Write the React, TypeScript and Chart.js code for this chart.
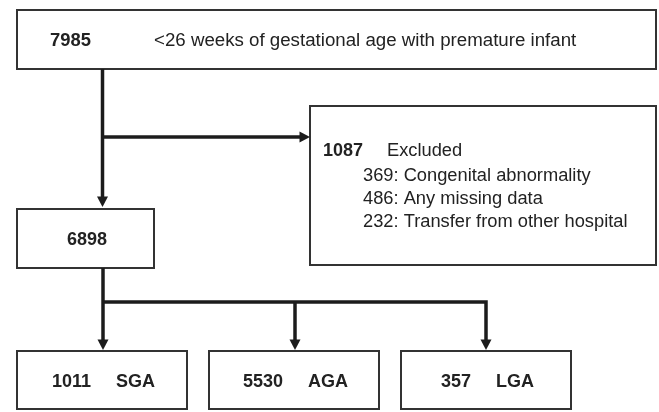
import React, { useEffect, useRef } from "react";
import { Chart, registerables } from "chart.js";

Chart.register(...registerables);

// ---- data ----
const nodeCounts = [7985, 1087, 6898, 1011, 5530, 357];
const nodeLabels = [
  "<26 weeks of gestational age with premature infant",
  "Excluded",
  "",
  "SGA",
  "AGA",
  "LGA",
];
const exclusionCounts = [369, 486, 232];
const exclusionReasons = [
  "Congenital abnormality",
  "Any missing data",
  "Transfer from other hospital",
];

// ---- layout (in scale units: x 0..659, y 0..412) ----
type Box = { x0: number; y0: number; x1: number; y1: number };
const boxes: Box[] = [
  { x0: 17, y0: 10, x1: 656, y1: 69 },
  { x0: 310, y0: 106, x1: 656, y1: 265 },
  { x0: 17, y0: 209, x1: 154, y1: 268 },
  { x0: 17, y0: 351, x1: 187, y1: 409 },
  { x0: 209, y0: 351, x1: 379, y1: 409 },
  { x0: 401, y0: 351, x1: 571, y1: 409 },
];
const connectors: { pts: number[][]; arrow: boolean }[] = [
  { pts: [[102.5, 69], [102.5, 207]], arrow: true },
  { pts: [[102.5, 137], [310, 137]], arrow: true },
  { pts: [[103, 268], [103, 350]], arrow: true },
  { pts: [[103, 302], [486, 302], [486, 350]], arrow: true },
  { pts: [[295, 302], [295, 350]], arrow: true },
];

const FONT = '"Liberation Sans", Arial, Helvetica, sans-serif';
const FS = 18;

const flowPlugin = {
  id: "flow",
  beforeDraw(chart: any) {
    const c = chart.ctx;
    c.save();
    c.fillStyle = "#ffffff";
    c.fillRect(0, 0, chart.width, chart.height);
    c.restore();
  },
  afterDraw(chart: any) {
    const c: CanvasRenderingContext2D = chart.ctx;
    const xs = chart.scales.x;
    const ys = chart.scales.y;
    const px = (v: number) => xs.getPixelForValue(v);
    const py = (v: number) => ys.getPixelForValue(v);
    c.save();

    // boxes
    c.strokeStyle = "#333333";
    c.lineWidth = 2;
    boxes.forEach((b) => {
      c.strokeRect(px(b.x0), py(b.y0), px(b.x1) - px(b.x0), py(b.y1) - py(b.y0));
    });

    // connectors
    c.strokeStyle = "#1c1c1c";
    c.fillStyle = "#1c1c1c";
    c.lineWidth = 3.5;
    c.lineCap = "butt";
    c.lineJoin = "miter";
    connectors.forEach((cn) => {
      const pts = cn.pts.map((p) => [px(p[0]), py(p[1])]);
      const n = pts.length;
      const [ex, ey] = pts[n - 1];
      const [sx, sy] = pts[n - 2];
      const len = Math.hypot(ex - sx, ey - sy);
      const ux = (ex - sx) / len;
      const uy = (ey - sy) / len;
      const head = 10.5;
      c.beginPath();
      c.moveTo(pts[0][0], pts[0][1]);
      for (let i = 1; i < n - 1; i++) c.lineTo(pts[i][0], pts[i][1]);
      c.lineTo(ex - ux * (cn.arrow ? head - 1 : 0), ey - uy * (cn.arrow ? head - 1 : 0));
      c.stroke();
      if (cn.arrow) {
        const bx = ex - ux * head;
        const by = ey - uy * head;
        const w = 5.5;
        c.beginPath();
        c.moveTo(ex, ey);
        c.lineTo(bx - uy * w, by + ux * w);
        c.lineTo(bx + uy * w, by - ux * w);
        c.closePath();
        c.fill();
      }
    });

    // texts
    c.fillStyle = "#222222";
    c.textBaseline = "alphabetic";
    const bold = `bold ${FS}px ${FONT}`;

    // top box
    c.textAlign = "left";
    c.font = `bold 18.4px ${FONT}`;
    c.fillText(String(nodeCounts[0]), px(50), py(45.5));
    c.font = `18.7px ${FONT}`;
    c.fillText(nodeLabels[0], px(154), py(45.5));

    // excluded box
    c.font = bold;
    c.fillText(String(nodeCounts[1]), px(323), py(156));
    c.font = `18.3px ${FONT}`;
    c.fillText(nodeLabels[1], px(387), py(156));
    exclusionCounts.forEach((v, i) => {
      c.fillText(`${v}: ${exclusionReasons[i]}`, px(363), py(180.5 + i * 23.2));
    });

    // center boxes
    for (let i = 2; i < nodeCounts.length; i++) {
      const b = boxes[i];
      const cx = (px(b.x0) + px(b.x1)) / 2 + 1.5;
      const cy = (py(b.y0) + py(b.y1)) / 2 + 6.5;
      c.font = bold;
      const a = String(nodeCounts[i]);
      const l = nodeLabels[i];
      const gap = l ? 25 : 0;
      const wa = c.measureText(a).width;
      const wl = l ? c.measureText(l).width : 0;
      const total = wa + gap + wl;
      const start = cx - total / 2;
      c.fillText(a, start, cy);
      if (l) c.fillText(l, start + wa + gap, cy);
    }
    c.restore();
  },
};

export default function App() {
  const ref = useRef<HTMLCanvasElement | null>(null);
  useEffect(() => {
    document.body.style.margin = "0";
    if (!ref.current) return;
    const chart = new Chart(ref.current, {
      type: "scatter",
      data: { datasets: [{ data: [] }] },
      options: {
        animation: false,
        responsive: false,
        devicePixelRatio: 1,
        layout: { padding: 0 },
        events: [],
        plugins: { legend: { display: false }, tooltip: { enabled: false }, title: { display: false } },
        scales: {
          x: { type: "linear", min: 0, max: 659, display: false },
          y: { type: "linear", min: 0, max: 412, reverse: true, display: false },
        },
      },
      plugins: [flowPlugin],
    } as any);
    return () => chart.destroy();
  }, []);
  return (
    <div style={{ position: "absolute", left: 0, top: 0, width: 659, height: 412 }}>
      <canvas ref={ref} width={659} height={412} style={{ display: "block" }} />
    </div>
  );
}
